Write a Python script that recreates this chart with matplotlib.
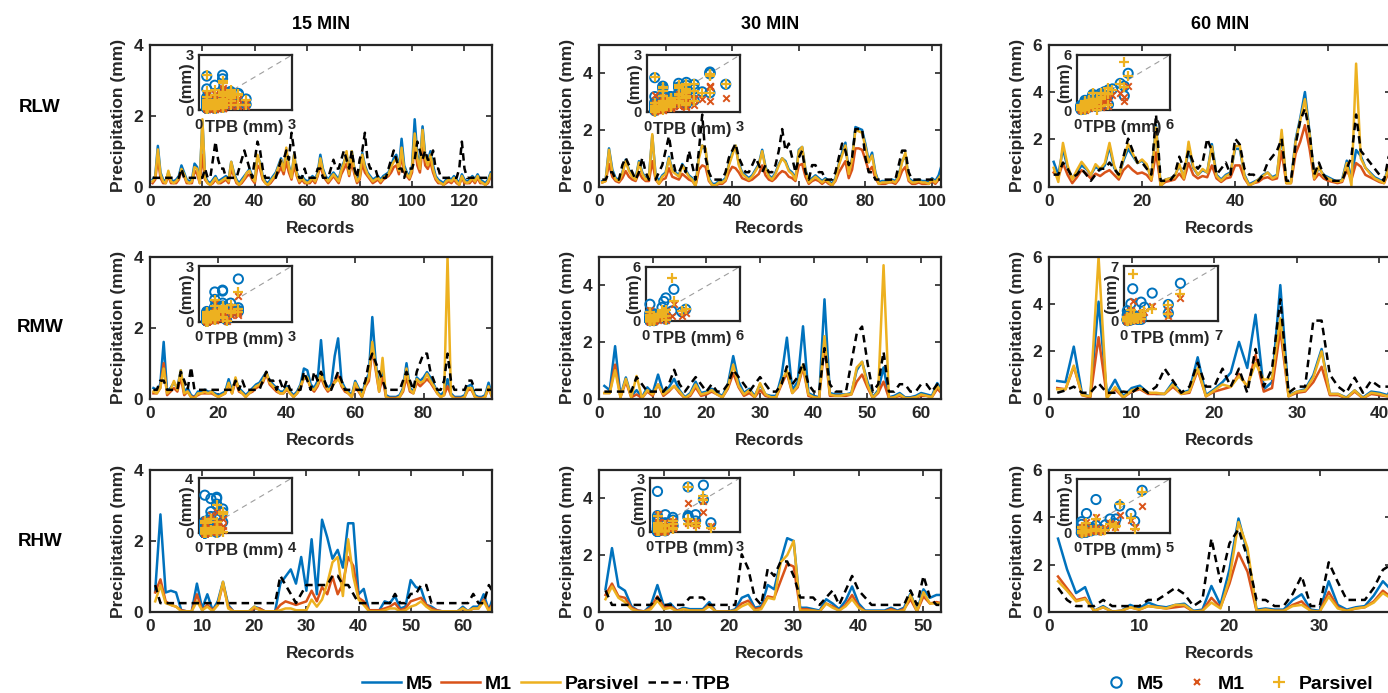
import matplotlib
matplotlib.use("Agg")
import matplotlib.pyplot as plt
from matplotlib.lines import Line2D
import numpy as np

plt.rcParams["font.family"] = ["Liberation Sans", "DejaVu Sans"]
plt.rcParams["font.weight"] = "bold"
plt.rcParams["axes.labelweight"] = "bold"

BLUE = "#0072BD"
RED = "#D95319"
YEL = "#EDB120"
AXC = "#262626"

# ---------------- data ----------------
# RLW 15 min
rlw15_tpb = [0.25, 0.25, 0.25, 0.25, 0.25, 0.25, 0.25, 0.25, 0.25, 0.25,
             0.25, 0.51, 0.25, 0.25, 0.25, 0.25, 0.25, 0.25, 0.25, 0.25,
             0.51, 0.25, 0.25, 0.76, 1.27, 0.76, 0.51, 0.51, 0.25, 0.25,
             0.25, 0.25, 0.25, 0.51, 0.76, 1.02, 0.76, 0.51, 0.25, 0.76,
             1.27, 1.02, 0.51, 0.25, 0.25, 0.25, 0.25, 0.25, 0.51, 0.76,
             0.76, 1.02, 0.76, 1.52, 1.02, 0.51, 0.25, 0.25, 0.51, 0.25,
             0.25, 0.25, 0.25, 0.51, 0.51, 0.25, 0.25, 0.25, 0.51, 0.76,
             0.51, 0.51, 0.76, 1.02, 0.76, 0.51, 1.02, 0.51, 0.25, 0.76,
             1.02, 1.52, 0.76, 0.51, 0.51, 0.51, 0.25, 0.25, 0.25, 0.25,
             0.51, 0.76, 1.02, 0.76, 0.51, 0.51, 0.25, 0.51, 0.51, 0.51,
             0.76, 1.27, 1.02, 0.76, 1.02, 0.76, 0.76, 1.02, 0.51, 0.51,
             0.25, 0.25, 0.25, 0.25, 0.25, 0.25, 0.25, 0.51, 1.27, 0.51,
             0.25, 0.25, 0.25, 0.25, 0.25, 0.25, 0.25, 0.25, 0.25, 0.25]
rlw15_m5 = [0.2, 0.3, 1.15, 0.4, 0.2, 0.15, 0.4, 0.2, 0.15, 0.2,
            0.3, 0.6, 0.4, 0.2, 0.15, 0.2, 0.65, 0.55, 0.2, 1.85,
            0.3, 0.15, 0.1, 0.2, 0.3, 0.15, 0.2, 0.25, 0.3, 0.2,
            0.7, 0.4, 0.2, 0.1, 0.2, 0.3, 0.4, 0.5, 0.3, 0.2,
            0.85, 0.7, 0.3, 0.15, 0.1, 0.2, 0.3, 0.4, 0.6, 0.8,
            0.5, 1.0, 0.6, 0.3, 0.9, 0.4, 0.2, 0.3, 0.2, 0.15,
            0.2, 0.3, 0.2, 0.4, 0.9, 0.5, 0.3, 0.2, 0.3, 0.4,
            0.3, 0.2, 0.5, 0.7, 0.9, 0.4, 1.0, 0.5, 0.2, 0.3,
            0.95, 0.6, 0.4, 0.3, 0.2, 0.25, 0.3, 0.2, 0.3, 0.35,
            0.4, 0.6, 0.8, 0.9, 0.5, 1.35, 0.6, 0.4, 0.3, 0.6,
            1.9, 0.9, 0.6, 1.7, 0.9, 0.7, 1.0, 0.6, 0.3, 0.2,
            0.15, 0.1, 0.2, 0.25, 0.2, 0.3, 0.2, 0.1, 0.35, 0.2,
            0.15, 0.2, 0.3, 0.2, 0.35, 0.2, 0.15, 0.1, 0.2, 0.4]
rlw15_m1 = [0.1, 0.2, 0.8, 0.25, 0.1, 0.1, 0.3, 0.1, 0.1, 0.1,
            0.2, 0.45, 0.3, 0.1, 0.1, 0.1, 0.45, 0.35, 0.1, 0.9,
            0.2, 0.1, 0.05, 0.1, 0.2, 0.1, 0.1, 0.15, 0.2, 0.1,
            0.5, 0.3, 0.1, 0.05, 0.1, 0.2, 0.3, 0.35, 0.2, 0.1,
            0.6, 0.5, 0.2, 0.1, 0.05, 0.1, 0.2, 0.3, 0.4, 0.55,
            0.35, 0.7, 0.4, 0.2, 0.6, 0.3, 0.1, 0.2, 0.1, 0.1,
            0.1, 0.2, 0.1, 0.3, 0.6, 0.35, 0.2, 0.1, 0.2, 0.3,
            0.2, 0.1, 0.35, 0.5, 0.65, 0.3, 0.7, 0.35, 0.1, 0.2,
            0.65, 0.4, 0.3, 0.2, 0.1, 0.15, 0.2, 0.1, 0.2, 0.25,
            0.3, 0.4, 0.55, 0.6, 0.35, 0.9, 0.4, 0.3, 0.2, 0.4,
            1.2, 0.6, 0.4, 1.1, 0.6, 0.5, 0.7, 0.4, 0.2, 0.1,
            0.1, 0.05, 0.1, 0.15, 0.1, 0.2, 0.1, 0.05, 0.25, 0.1,
            0.1, 0.1, 0.2, 0.1, 0.25, 0.1, 0.1, 0.05, 0.1, 0.3]
rlw15_par = [0.15, 0.25, 1.05, 0.35, 0.15, 0.1, 0.45, 0.15, 0.1, 0.15,
             0.25, 0.5, 0.35, 0.15, 0.1, 0.15, 0.55, 0.5, 0.1, 1.9,
             0.25, 0.1, 0.05, 0.15, 0.25, 0.1, 0.15, 0.2, 0.25, 0.15,
             0.7, 0.35, 0.15, 0.05, 0.15, 0.25, 0.4, 0.45, 0.25, 0.15,
             0.9, 0.65, 0.25, 0.1, 0.05, 0.15, 0.25, 0.35, 0.55, 0.75,
             0.45, 1.1, 0.55, 0.25, 0.9, 0.35, 0.15, 0.25, 0.15, 0.1,
             0.15, 0.25, 0.15, 0.35, 0.8, 0.45, 0.25, 0.15, 0.25, 0.35,
             0.25, 0.15, 0.45, 0.65, 1.0, 0.35, 1.0, 0.45, 0.15, 0.25,
             0.9, 0.55, 0.35, 0.25, 0.15, 0.2, 0.25, 0.15, 0.25, 0.3,
             0.35, 0.55, 0.7, 0.8, 0.45, 1.1, 0.5, 0.35, 0.25, 0.5,
             1.5, 0.8, 0.5, 1.6, 0.8, 0.6, 0.9, 0.5, 0.25, 0.15,
             0.1, 0.05, 0.15, 0.2, 0.15, 0.25, 0.15, 0.05, 0.3, 0.15,
             0.1, 0.15, 0.25, 0.15, 0.3, 0.15, 0.1, 0.05, 0.15, 0.35]

# RLW 30 min
rlw30_tpb = [0.25, 0.25, 0.51, 0.51, 0.25, 0.25, 0.76, 1.02, 0.76, 0.51,
             0.25, 0.51, 1.02, 0.51, 0.25, 0.25, 0.25, 0.51, 0.76, 1.27,
             1.78, 1.02, 0.51, 0.51, 0.76, 0.51, 1.27, 0.76, 0.25, 1.27,
             2.54, 1.02, 0.51, 0.25, 0.25, 0.25, 0.25, 0.51, 1.02, 1.27,
             1.52, 1.02, 0.76, 0.51, 0.51, 0.76, 1.02, 0.76, 0.51, 0.76,
             0.51, 0.51, 0.76, 1.27, 2.03, 1.27, 1.52, 1.02, 0.51, 1.02,
             1.27, 0.51, 0.25, 0.76, 0.76, 0.51, 0.51, 0.25, 0.25, 0.25,
             0.51, 1.02, 1.52, 1.27, 0.76, 1.02, 2.03, 2.03, 2.03, 1.02,
             0.51, 0.51, 0.25, 0.25, 0.25, 0.25, 0.25, 0.25, 0.25, 0.76,
             1.27, 1.27, 0.51, 0.25, 0.25, 0.25, 0.25, 0.25, 0.25, 0.25,
             0.25, 0.25, 0.25]
rlw30_m5 = [0.2, 0.25, 1.35, 0.6, 0.3, 0.25, 0.5, 0.95, 0.6, 0.4,
            0.3, 0.9, 0.5, 0.3, 0.35, 1.8, 0.4, 0.2, 0.4, 0.5,
            1.05, 0.6, 0.5, 0.4, 0.8, 0.6, 0.4, 0.3, 0.05, 1.1,
            1.45, 1.3, 0.3, 0.1, 0.1, 0.2, 0.2, 0.3, 0.8, 1.2,
            1.45, 0.8, 0.5, 0.4, 0.3, 0.4, 0.6, 0.8, 1.3, 0.7,
            0.4, 0.3, 0.5, 0.8, 1.0, 0.9, 0.6, 0.5, 0.3, 1.3,
            1.4, 0.6, 0.2, 0.3, 0.4, 0.3, 0.2, 0.3, 0.2, 0.1,
            0.3, 0.8, 1.2, 1.55, 0.5, 1.0, 2.1, 2.05, 2.0, 1.5,
            0.9, 1.2, 0.5, 0.15, 0.2, 0.2, 0.2, 0.25, 0.2, 0.4,
            0.9, 1.1, 0.3, 0.2, 0.2, 0.25, 0.2, 0.2, 0.15, 0.3,
            0.2, 0.4, 0.8]
rlw30_m1 = [0.15, 0.2, 0.8, 0.35, 0.2, 0.15, 0.3, 0.55, 0.35, 0.25,
            0.2, 0.5, 0.3, 0.2, 0.2, 0.9, 0.25, 0.1, 0.25, 0.3,
            0.65, 0.35, 0.3, 0.25, 0.45, 0.35, 0.25, 0.2, 0.05, 0.6,
            0.75, 0.7, 0.2, 0.05, 0.05, 0.1, 0.1, 0.2, 0.5, 0.7,
            0.65, 0.5, 0.3, 0.25, 0.2, 0.25, 0.35, 0.45, 0.75, 0.4,
            0.25, 0.2, 0.3, 0.45, 0.55, 0.5, 0.35, 0.3, 0.2, 0.75,
            0.8, 0.35, 0.1, 0.2, 0.25, 0.2, 0.1, 0.2, 0.1, 0.05,
            0.2, 0.5, 0.7, 0.9, 0.3, 0.6, 1.35, 1.35, 1.3, 0.95,
            0.55, 0.7, 0.3, 0.1, 0.1, 0.1, 0.15, 0.15, 0.1, 0.25,
            0.55, 0.7, 0.2, 0.1, 0.1, 0.15, 0.1, 0.1, 0.1, 0.2,
            0.1, 0.25, 0.45]
rlw30_par = [0.15, 0.2, 1.3, 0.5, 0.25, 0.2, 0.45, 0.9, 0.55, 0.35,
             0.25, 0.85, 0.45, 0.25, 0.3, 1.85, 0.3, 0.1, 0.35, 0.45,
             1.0, 0.55, 0.45, 0.35, 0.75, 0.55, 0.35, 0.25, 0.0, 1.0,
             1.45, 1.35, 0.25, 0.05, 0.05, 0.15, 0.15, 0.25, 0.75, 1.1,
             1.45, 0.75, 0.45, 0.35, 0.25, 0.35, 0.55, 0.75, 1.25, 0.65,
             0.35, 0.25, 0.45, 0.75, 1.0, 0.85, 0.55, 0.45, 0.25, 1.25,
             1.4, 0.55, 0.15, 0.25, 0.35, 0.25, 0.15, 0.25, 0.15, 0.05,
             0.25, 0.75, 1.1, 1.45, 0.45, 0.95, 2.0, 1.95, 1.9, 1.4,
             0.85, 1.1, 0.45, 0.1, 0.15, 0.15, 0.15, 0.2, 0.15, 0.35,
             0.85, 1.2, 0.25, 0.15, 0.15, 0.2, 0.15, 0.15, 0.1, 0.25,
             0.15, 0.3, 0.45]

# RLW 60 min
rlw60_tpb = [0.51, 0.51, 1.02, 0.76, 0.4, 0.51, 0.76, 0.51, 0.25, 0.51,
             0.76, 0.76, 1.02, 0.76, 0.51, 1.27, 2.03, 1.52, 1.02, 1.02,
             0.76, 0.51, 3.05, 0.25, 0.25, 0.25, 0.51, 1.27, 0.76, 1.52,
             1.02, 0.76, 1.02, 2.03, 1.52, 0.51, 0.76, 1.02, 0.51, 2.03,
             1.78, 0.76, 0.51, 0.51, 0.25, 0.51, 1.02, 1.27, 1.52, 2.03,
             0.25, 0.25, 1.78, 2.79, 3.3, 2.29, 0.51, 1.02, 0.51, 0.25,
             0.25, 0.25, 0.25, 0.76, 1.27, 3.05, 1.52, 1.27, 1.02, 0.76,
             0.51, 0.25, 1.27, 1.02]
rlw60_m5 = [1.05, 0.5, 1.6, 0.8, 0.35, 0.6, 0.9, 0.75, 0.5, 0.85,
            0.7, 0.9, 1.7, 0.8, 0.45, 1.1, 1.6, 1.3, 1.0, 1.1,
            0.9, 0.35, 2.6, 0.05, 0.3, 0.35, 0.45, 0.9, 0.4, 1.6,
            0.8, 0.5, 0.7, 0.6, 1.8, 0.5, 0.3, 0.5, 0.6, 1.6,
            1.6, 0.5, 0.1, 0.2, 0.3, 0.5, 0.6, 0.4, 0.5, 2.2,
            0.2, 0.2, 2.0, 2.9, 4.0, 2.3, 0.4, 0.8, 0.5, 0.4,
            0.3, 0.2, 0.3, 1.1, 0.4, 1.55, 1.3, 0.8, 0.6, 0.4,
            0.3, 0.2, 0.9, 0.9]
rlw60_m1 = [0.6, 0.4, 1.0, 0.5, 0.15, 0.4, 0.7, 0.55, 0.35, 0.55,
            0.45, 0.6, 0.7, 0.5, 0.3, 0.7, 0.9, 0.7, 0.55, 0.6,
            0.5, 0.25, 1.45, 0.05, 0.2, 0.25, 0.3, 0.55, 0.3, 1.0,
            0.5, 0.35, 0.45, 0.4, 0.9, 0.35, 0.2, 0.35, 0.4, 0.9,
            0.9, 0.35, 0.05, 0.15, 0.2, 0.35, 0.4, 0.3, 0.35, 1.5,
            0.15, 0.15, 1.4, 1.9, 2.6, 1.6, 0.3, 0.55, 0.35, 0.25,
            0.2, 0.15, 0.2, 0.7, 0.3, 1.0, 0.85, 0.5, 0.4, 0.3,
            0.2, 0.15, 0.6, 0.6]
rlw60_par = [0.8, 0.2, 1.85, 0.9, 0.3, 0.7, 1.05, 0.8, 0.5, 0.95,
             0.75, 1.0, 1.85, 0.9, 0.4, 1.2, 1.8, 1.4, 1.0, 1.15,
             0.95, 0.3, 2.5, 0.0, 0.3, 0.35, 0.4, 0.95, 0.35, 1.9,
             0.85, 0.5, 0.75, 0.6, 1.7, 0.45, 0.25, 0.45, 0.55, 1.7,
             1.75, 0.45, 0.05, 0.15, 0.3, 0.45, 0.6, 0.35, 0.45, 2.4,
             0.15, 0.15, 1.9, 2.8, 3.7, 2.2, 0.35, 0.85, 0.45, 0.35,
             0.25, 0.2, 0.25, 1.0, 0.05, 5.2, 1.2, 0.8, 0.55, 0.35,
             0.25, 0.15, 0.85, 0.8]

# RMW 15 min
rmw15_tpb = [0.25, 0.25, 0.51, 0.51, 0.25, 0.25, 0.25, 0.25, 0.76, 0.51,
             0.25, 0.89, 0.25, 0.25, 0.25, 0.25, 0.25, 0.25, 0.25, 0.25,
             0.25, 0.25, 0.25, 0.25, 0.51, 0.25, 0.51, 0.25, 0.25, 0.25,
             0.25, 0.25, 0.51, 0.76, 0.51, 0.51, 0.25, 0.51, 0.25, 0.51,
             0.25, 0.25, 0.25, 0.25, 0.76, 0.51, 0.25, 0.76, 0.51, 0.76,
             0.51, 0.25, 0.25, 0.51, 0.76, 0.51, 0.25, 0.25, 0.25, 0.25,
             0.25, 0.25, 0.51, 1.02, 1.27, 1.02, 0.76, 0.51, 0.25, 0.25,
             0.25, 0.25, 0.25, 0.51, 0.76, 0.51, 0.25, 0.76, 1.02, 1.27,
             1.27, 0.76, 0.51, 0.25, 0.25, 0.51, 1.27, 0.51, 0.25, 0.25,
             0.25, 0.25, 0.51, 0.51, 0.25, 0.25, 0.25, 0.25, 0.25, 0.25]
rmw15_m5 = [0.3, 0.25, 0.4, 1.6, 0.2, 0.3, 0.45, 0.3, 0.8, 0.2,
            0.3, 0.1, 0.05, 0.2, 0.2, 0.25, 0.2, 0.2, 0.15, 0.1,
            0.15, 0.2, 0.55, 0.2, 0.55, 0.3, 0.2, 0.1, 0.2, 0.3,
            0.4, 0.45, 0.6, 0.75, 0.5, 0.4, 0.3, 0.2, 0.2, 0.35,
            0.2, 0.1, 0.2, 0.4, 0.85, 0.8, 0.4, 0.3, 0.5, 1.65,
            0.5, 0.3, 0.4, 1.2, 1.7, 0.5, 0.3, 0.2, 0.1, 0.5,
            0.3, 0.1, 0.5, 0.7, 2.3, 1.0, 0.3, 0.8, 0.1, 0.05,
            0.05, 0.05, 0.1, 0.3, 1.0, 0.3, 0.2, 0.6, 0.5, 0.6,
            0.75, 0.6, 0.4, 0.2, 0.1, 0.2, 0.55, 0.15, 0.05, 0.05,
            0.05, 0.1, 0.35, 0.4, 0.1, 0.05, 0.05, 0.1, 0.45, 0.1]
rmw15_m1 = [0.15, 0.15, 0.3, 1.0, 0.1, 0.2, 0.3, 0.2, 0.6, 0.1,
            0.2, 0.05, 0.05, 0.1, 0.15, 0.15, 0.15, 0.15, 0.1, 0.05,
            0.1, 0.15, 0.4, 0.15, 0.5, 0.2, 0.15, 0.05, 0.15, 0.2,
            0.3, 0.35, 0.45, 0.7, 0.4, 0.3, 0.2, 0.15, 0.15, 0.25,
            0.15, 0.05, 0.15, 0.3, 0.6, 0.55, 0.3, 0.2, 0.35, 0.6,
            0.35, 0.2, 0.3, 0.5, 0.65, 0.35, 0.2, 0.15, 0.05, 0.35,
            0.2, 0.05, 0.35, 0.5, 1.4, 0.8, 0.2, 0.6, 0.05, 0.02,
            0.02, 0.02, 0.05, 0.2, 0.6, 0.2, 0.15, 0.45, 0.35, 0.45,
            0.55, 0.45, 0.3, 0.15, 0.05, 0.1, 0.35, 0.1, 0.02, 0.02,
            0.02, 0.05, 0.25, 0.25, 0.05, 0.02, 0.02, 0.05, 0.3, 0.05]
rmw15_par = [0.2, 0.15, 0.3, 0.85, 0.15, 0.25, 0.5, 0.25, 0.8, 0.15,
             0.2, 0.05, 0.0, 0.15, 0.15, 0.2, 0.15, 0.2, 0.1, 0.05,
             0.1, 0.15, 0.45, 0.15, 0.6, 0.25, 0.15, 0.05, 0.15, 0.25,
             0.35, 0.4, 0.5, 0.75, 0.45, 0.35, 0.25, 0.15, 0.15, 0.3,
             0.15, 0.05, 0.15, 0.35, 0.6, 0.6, 0.3, 0.25, 0.4, 0.7,
             0.4, 0.25, 0.3, 0.45, 0.55, 0.4, 0.25, 0.15, 0.05, 0.45,
             0.25, 0.05, 0.4, 0.6, 1.6, 0.9, 0.2, 1.15, 0.05, 0.0,
             0.0, 0.0, 0.05, 0.25, 0.85, 0.25, 0.15, 0.55, 0.45, 0.5,
             0.7, 0.5, 0.35, 0.15, 0.05, 0.1, 4.0, 0.1, 0.0, 0.0,
             0.0, 0.05, 0.3, 0.3, 0.05, 0.0, 0.0, 0.05, 0.35, 0.05]

# RMW 30 min
rmw30_tpb = [0.25, 0.25, 0.25, 0.25, 0.25, 0.25, 0.76, 0.51, 0.25, 0.25,
             0.25, 0.25, 0.51, 1.02, 0.51, 0.25, 0.51, 0.76, 0.51, 0.25,
             0.51, 0.25, 0.25, 0.51, 1.02, 0.76, 0.51, 0.25, 0.51, 0.76,
             0.51, 0.25, 0.25, 0.51, 1.14, 0.51, 0.76, 1.27, 0.51, 0.25,
             0.25, 1.78, 0.51, 0.25, 0.25, 0.25, 1.27, 2.29, 2.54, 1.27,
             0.25, 0.51, 1.65, 0.25, 0.25, 0.51, 0.51, 0.25, 0.25, 0.51,
             0.51, 0.25, 0.51, 0.25]
rmw30_m5 = [0.45, 0.3, 1.85, 0.1, 0.75, 0.1, 0.3, 0.05, 0.4, 0.2,
            0.85, 0.2, 0.4, 0.7, 0.3, 0.05, 0.2, 0.6, 0.2, 0.25,
            0.35, 0.2, 0.1, 0.5, 1.5, 0.6, 0.2, 0.35, 0.1, 0.5,
            0.15, 0.1, 0.1, 0.8, 2.15, 0.3, 0.6, 2.55, 0.2, 0.1,
            0.05, 3.5, 0.2, 0.15, 0.15, 0.15, 0.2, 1.0, 1.3, 0.6,
            0.05, 0.3, 1.1, 0.05, 0.1, 0.2, 0.05, 0.05, 0.1, 0.2,
            0.15, 0.1, 0.55, 0.25]
rmw30_m1 = [0.2, 0.2, 1.2, 0.05, 0.6, 0.05, 0.15, 0.02, 0.25, 0.1,
            0.5, 0.1, 0.25, 0.45, 0.2, 0.02, 0.1, 0.4, 0.1, 0.15,
            0.25, 0.15, 0.05, 0.35, 0.9, 0.4, 0.1, 0.2, 0.05, 0.3,
            0.1, 0.05, 0.05, 0.5, 0.9, 0.2, 0.4, 1.1, 0.1, 0.05,
            0.02, 1.9, 0.1, 0.1, 0.1, 0.1, 0.15, 0.6, 0.85, 0.4,
            0.02, 0.2, 0.6, 0.02, 0.05, 0.1, 0.02, 0.02, 0.05, 0.1,
            0.1, 0.05, 0.35, 0.15]
rmw30_par = [0.2, 0.2, 1.0, 0.05, 0.7, 0.05, 0.8, 0.02, 0.3, 0.15,
             0.5, 0.15, 0.3, 0.45, 0.25, 0.02, 0.15, 0.5, 0.15, 0.2,
             0.3, 0.15, 0.05, 0.4, 1.2, 0.45, 0.15, 0.3, 0.05, 0.55,
             0.15, 0.05, 0.05, 0.6, 1.0, 0.2, 0.45, 1.2, 0.15, 0.05,
             0.02, 2.2, 0.15, 0.1, 0.1, 0.15, 0.15, 1.1, 1.3, 0.5,
             0.02, 0.25, 4.7, 0.02, 0.05, 0.15, 0.02, 0.02, 0.05, 0.15,
             0.1, 0.05, 0.45, 0.2]

# RMW 60 min
rmw60_tpb = [0.25, 0.35, 0.51, 0.25, 0.25, 0.65, 0.25, 0.25, 0.3, 0.25,
             0.51, 0.25, 0.51, 1.27, 0.76, 0.25, 0.51, 1.52, 0.51, 0.51,
             1.27, 0.51, 1.27, 0.25, 2.1, 0.51, 1.27, 4.2, 0.25, 0.51,
             0.51, 3.3, 3.3, 1.02, 0.51, 0.25, 0.89, 0.25, 0.76, 0.51,
             0.51, 0.51]
rmw60_m5 = [0.75, 0.7, 2.2, 0.2, 0.1, 4.1, 0.2, 0.8, 0.1, 0.45,
            0.55, 0.25, 0.2, 0.2, 0.7, 0.25, 0.35, 1.75, 0.15, 0.4,
            0.7, 1.1, 2.4, 1.3, 3.55, 0.4, 0.7, 4.8, 0.15, 0.3,
            0.4, 1.0, 2.1, 0.2, 0.2, 0.05, 0.35, 0.05, 0.3, 0.25,
            0.15, 0.9]
rmw60_m1 = [0.45, 0.4, 1.35, 0.15, 0.05, 2.6, 0.1, 0.4, 0.05, 0.3,
            0.4, 0.2, 0.2, 0.2, 0.5, 0.2, 0.25, 1.2, 0.1, 0.3,
            0.4, 0.5, 1.05, 0.5, 1.85, 0.3, 0.45, 2.9, 0.1, 0.25,
            0.3, 0.7, 1.35, 0.15, 0.15, 0.02, 0.3, 0.02, 0.2, 0.15,
            0.1, 0.5]
rmw60_par = [0.4, 0.4, 1.4, 0.15, 0.1, 6.0, 0.0, 0.5, 0.05, 0.35,
             0.45, 0.25, 0.25, 0.2, 0.6, 0.2, 0.3, 1.3, 0.1, 0.35,
             0.6, 0.5, 0.95, 0.55, 1.5, 0.8, 0.85, 3.4, 0.1, 0.3,
             0.35, 0.9, 2.0, 0.2, 0.2, 0.02, 0.35, 0.02, 0.25, 0.2,
             0.1, 0.6]

# RHW 15 min
rhw15_tpb = [0.76, 0.25, 0.25, 0.25, 0.25, 0.25, 0.25, 0.25, 0.25, 0.25,
             0.25, 0.25, 0.25, 0.25, 0.25, 0.25, 0.25, 0.25, 0.25, 0.25,
             0.25, 0.25, 0.25, 0.25, 1.02, 0.76, 0.51, 0.25, 0.51, 0.76,
             0.76, 0.76, 0.76, 0.76, 1.02, 1.02, 0.76, 0.76, 0.51, 0.25,
             0.25, 0.25, 0.25, 0.25, 0.25, 0.25, 0.51, 0.25, 0.25, 0.51,
             0.51, 0.76, 0.76, 0.25, 0.25, 0.25, 0.25, 0.25, 0.25, 0.25,
             0.25, 0.51, 0.25, 0.25, 0.76, 0.51]
rhw15_m5 = [0.6, 2.75, 0.55, 0.6, 0.55, 0.05, 0.02, 0.02, 0.8, 0.1,
            0.5, 0.05, 0.3, 0.85, 0.2, 0.02, 0.02, 0.02, 0.02, 0.15,
            0.1, 0.02, 0.02, 0.02, 0.8, 1.0, 1.2, 0.8, 1.55, 0.6,
            2.05, 0.5, 2.6, 2.1, 1.5, 1.75, 1.25, 2.5, 2.5, 0.5,
            0.65, 0.05, 0.05, 0.05, 0.3, 0.25, 0.45, 0.1, 0.15, 0.9,
            0.7, 0.65, 0.2, 0.15, 0.05, 0.02, 0.02, 0.02, 0.02, 0.15,
            0.02, 0.15, 0.15, 0.5, 0.05, 0.5]
rhw15_m1 = [0.55, 0.92, 0.3, 0.2, 0.15, 0.05, 0.02, 0.02, 0.5, 0.05,
            0.2, 0.05, 0.2, 0.8, 0.15, 0.02, 0.02, 0.02, 0.02, 0.1,
            0.1, 0.02, 0.02, 0.02, 0.2, 0.3, 0.25, 0.2, 0.25, 0.3,
            0.6, 0.3, 0.7, 0.5, 1.0, 0.5, 0.8, 1.55, 1.3, 0.4,
            0.3, 0.05, 0.05, 0.05, 0.1, 0.15, 0.25, 0.05, 0.1, 0.3,
            0.35, 0.4, 0.2, 0.1, 0.05, 0.02, 0.02, 0.02, 0.02, 0.1,
            0.02, 0.1, 0.1, 0.35, 0.05, 0.3]
rhw15_par = [0.3, 0.75, 0.25, 0.2, 0.15, 0.02, 0.02, 0.02, 0.3, 0.05,
             0.15, 0.02, 0.2, 0.85, 0.1, 0.02, 0.02, 0.02, 0.02, 0.15,
             0.05, 0.02, 0.02, 0.02, 0.05, 0.1, 0.1, 0.05, 0.05, 0.05,
             0.35, 0.15, 0.35, 0.8, 1.4, 1.55, 0.45, 2.05, 1.0, 0.35,
             0.2, 0.02, 0.02, 0.02, 0.05, 0.1, 0.1, 0.02, 0.05, 0.15,
             0.2, 0.3, 0.15, 0.05, 0.02, 0.02, 0.02, 0.02, 0.02, 0.1,
             0.02, 0.1, 0.1, 0.3, 0.02, 0.25]

# RHW 30 min
rhw30_tpb = [0.76, 0.25, 0.25, 0.25, 0.25, 0.25, 0.25, 0.25, 0.51, 0.25,
             0.25, 0.25, 0.25, 0.51, 0.51, 0.51, 0.25, 0.25, 0.25, 0.25,
             0.25, 2.03, 1.52, 0.51, 0.25, 1.52, 1.27, 1.78, 1.78, 1.27,
             0.51, 0.51, 0.51, 0.25, 0.51, 0.76, 0.25, 0.76, 1.27, 0.76,
             0.51, 0.25, 0.25, 0.25, 0.25, 0.25, 0.25, 0.76, 0.25, 1.27,
             0.51, 0.25, 0.25]
rhw30_m5 = [0.8, 2.25, 0.9, 0.75, 0.2, 0.05, 0.02, 0.25, 0.95, 0.2,
            0.3, 0.05, 0.15, 0.1, 0.1, 0.1, 0.35, 0.02, 0.02, 0.02,
            0.1, 0.5, 0.6, 0.15, 0.2, 0.95, 0.8, 1.8, 2.6, 2.5,
            0.15, 0.15, 0.1, 0.05, 0.45, 0.3, 0.1, 0.4, 0.9, 0.3,
            0.05, 0.05, 0.05, 0.05, 0.15, 0.05, 0.15, 0.65, 0.05, 0.8,
            0.5, 0.6, 0.6]
rhw30_m1 = [0.6, 1.0, 0.55, 0.5, 0.15, 0.05, 0.02, 0.15, 0.55, 0.15,
            0.2, 0.05, 0.1, 0.05, 0.05, 0.05, 0.25, 0.02, 0.02, 0.02,
            0.05, 0.3, 0.4, 0.1, 0.15, 0.55, 0.5, 1.1, 1.7, 1.6,
            0.1, 0.1, 0.05, 0.02, 0.3, 0.2, 0.05, 0.25, 0.6, 0.2,
            0.02, 0.02, 0.02, 0.02, 0.1, 0.02, 0.1, 0.45, 0.02, 0.55,
            0.3, 0.35, 0.3]
rhw30_par = [0.45, 0.9, 0.5, 0.35, 0.1, 0.02, 0.02, 0.1, 0.4, 0.1,
             0.15, 0.02, 0.1, 0.05, 0.05, 0.05, 0.2, 0.02, 0.02, 0.02,
             0.05, 0.2, 0.3, 0.05, 0.1, 0.5, 0.45, 1.75, 2.0, 2.5,
             0.05, 0.05, 0.05, 0.02, 0.3, 0.15, 0.05, 0.2, 0.45, 0.15,
             0.02, 0.02, 0.02, 0.02, 0.05, 0.02, 0.05, 0.6, 0.02, 0.7,
             0.3, 0.3, 0.3]

# RHW 60 min
rhw60_tpb = [1.02, 0.51, 0.25, 0.25, 0.25, 0.51, 0.25, 0.25, 0.25, 0.25,
             0.51, 0.51, 0.76, 1.02, 0.76, 0.25, 0.51, 3.1, 1.27, 2.9,
             3.5, 2.29, 0.51, 0.51, 0.25, 0.25, 0.76, 1.52, 0.25, 0.25,
             2.1, 1.27, 0.51, 0.51, 0.51, 1.02, 1.78, 2.03]
rhw60_m5 = [3.1, 1.8, 0.8, 1.05, 0.05, 0.25, 0.02, 0.05, 0.3, 0.15,
            0.4, 0.25, 0.2, 0.3, 0.35, 0.05, 0.1, 1.1, 0.3, 1.8,
            3.95, 2.5, 0.1, 0.15, 0.1, 0.1, 0.5, 0.75, 0.1, 0.05,
            1.3, 0.3, 0.1, 0.2, 0.25, 0.7, 1.3, 0.9]
rhw60_m1 = [1.5, 1.0, 0.5, 0.6, 0.05, 0.2, 0.02, 0.05, 0.2, 0.1,
            0.25, 0.2, 0.15, 0.2, 0.25, 0.02, 0.05, 0.6, 0.2, 1.2,
            2.5, 1.7, 0.05, 0.1, 0.05, 0.05, 0.3, 0.45, 0.05, 0.02,
            0.85, 0.2, 0.05, 0.15, 0.2, 0.45, 0.9, 0.6]
rhw60_par = [1.3, 0.9, 0.45, 0.55, 0.05, 0.2, 0.02, 0.05, 0.2, 0.1,
             0.25, 0.2, 0.15, 0.3, 0.3, 0.02, 0.05, 0.4, 0.15, 1.4,
             3.8, 2.7, 0.05, 0.1, 0.05, 0.05, 0.25, 0.3, 0.05, 0.02,
             0.65, 0.15, 0.05, 0.15, 0.2, 0.4, 0.8, 0.55]

col_titles = ["15 MIN", "30 MIN", "60 MIN"]
row_names = ["RLW", "RMW", "RHW"]
x_max = [130.5, 102.7, 73.5, 100, 63.7, 41.4, 65.6, 52.7, 37.9]
x_step = [20, 20, 20, 20, 10, 10, 10, 10, 10]
y_max = [4, 5, 6, 4, 5, 6, 4, 5, 6]
inset_max = [3, 3, 6, 3, 6, 7, 4, 3, 5]

series = [
    (rlw15_tpb, rlw15_m5, rlw15_m1, rlw15_par),
    (rlw30_tpb, rlw30_m5, rlw30_m1, rlw30_par),
    (rlw60_tpb, rlw60_m5, rlw60_m1, rlw60_par),
    (rmw15_tpb, rmw15_m5, rmw15_m1, rmw15_par),
    (rmw30_tpb, rmw30_m5, rmw30_m1, rmw30_par),
    (rmw60_tpb, rmw60_m5, rmw60_m1, rmw60_par),
    (rhw15_tpb, rhw15_m5, rhw15_m1, rhw15_par),
    (rhw30_tpb, rhw30_m5, rhw30_m1, rhw30_par),
    (rhw60_tpb, rhw60_m5, rhw60_m1, rhw60_par),
]

# ---------------- layout (pixels) ----------------
W, H = 1388, 693


def box(l, t, r, b):
    return [l / W, 1 - b / H, (r - l) / W, (b - t) / H]


col_left = [150, 599, 1049]
row_top = [44.7, 256.7, 470]
ax_w, ax_h = 342, 142
inset_px = [(199, 55, 292, 110), (647, 55, 740, 111.7), (1077, 55, 1170, 110),
            (199, 266, 292, 321.7), (646, 266.7, 740, 321), (1124, 266, 1218, 321),
            (199, 478, 292, 533), (650, 478, 740, 531.7), (1077, 479, 1170, 533)]
row_label_y = [107, 327, 541]
LW = 1.8
DASH = (0, (3, 2))

fig = plt.figure(figsize=(W / 100, H / 100), dpi=100)

for i, (tpb, m5, m1, par) in enumerate(series):
    r, c = divmod(i, 3)
    l, t = col_left[c], row_top[r]
    ax = fig.add_axes(box(l, t, l + ax_w, t + ax_h))
    x = np.arange(1, len(tpb) + 1)
    ax.plot(x, m5, color=BLUE, lw=LW)
    ax.plot(x, m1, color=RED, lw=LW)
    ax.plot(x, par, color=YEL, lw=LW)
    ax.plot(x, tpb, color="black", lw=LW, ls=DASH)
    ax.set_xlim(0, x_max[i])
    ax.set_ylim(0, y_max[i])
    ax.set_yticks(np.arange(0, y_max[i] + 0.1, 2))
    ax.set_xticks(np.arange(0, x_max[i], x_step[i]))
    ax.tick_params(direction="in", length=4, width=1.2, top=True, right=True,
                   labelsize=12.5, pad=5, colors=AXC)
    for sp in ax.spines.values():
        sp.set_linewidth(1.6)
        sp.set_color(AXC)
    ax.set_xlabel("Records", fontsize=12.5, labelpad=9, color=AXC)
    ax.set_ylabel("Precipitation (mm)", fontsize=12.5, labelpad=5, color=AXC)
    if r == 0:
        ax.set_title(col_titles[c], fontsize=13, fontweight="bold", pad=11, color="black")

    # inset scatter against TPB
    L = inset_max[i]
    axi = fig.add_axes(box(*inset_px[i]))
    axi.plot([0, L], [0, L], color="#9e9e9e", lw=0.8, ls=(0, (5, 4)))
    tp = np.array(tpb)
    for vals, kw in [(m5, dict(marker="o", s=44, facecolors="none", edgecolors=BLUE, linewidths=1.4)),
                     (m1, dict(marker="x", s=22, color=RED, linewidths=1.4)),
                     (par, dict(marker="+", s=55, color=YEL, linewidths=1.6))]:
        v = np.array(vals)
        keep = (tp <= L) & (v <= L)
        axi.scatter(tp[keep], v[keep], clip_on=False, zorder=3, **kw)
    axi.set_xlim(0, L)
    axi.set_ylim(0, L)
    axi.set_xticks([0, L])
    axi.set_yticks([0, L])
    axi.set_xticklabels(["0", str(L)])
    axi.set_yticklabels(["0", str(L)])
    axi.tick_params(length=0, labelsize=10.5, colors=AXC)
    axi.tick_params(axis="x", pad=6)
    axi.tick_params(axis="y", pad=4)
    for sp in axi.spines.values():
        sp.set_linewidth(1.6)
        sp.set_color(AXC)
    axi.text(0.49, -0.32, "TPB (mm)", transform=axi.transAxes, ha="center", va="center",
             fontsize=12, fontweight="bold", color=AXC)
    axi.text(-0.13, 0.5, "(mm)", transform=axi.transAxes, ha="center", va="center",
             rotation=90, fontsize=12, fontweight="bold", color=AXC)

for r, name in enumerate(row_names):
    fig.text(40 / W, 1 - row_label_y[r] / H, name, ha="center", va="center",
             fontsize=13.5, fontweight="bold", color="black")

# legends
line_handles = [Line2D([], [], color=BLUE, lw=LW),
                Line2D([], [], color=RED, lw=LW),
                Line2D([], [], color=YEL, lw=LW),
                Line2D([], [], color="black", lw=LW, ls=DASH)]
fig.legend(line_handles, ["M5", "M1", "Parsivel", "TPB"], loc="center",
           bbox_to_anchor=(546 / W, 1 - 684 / H), ncol=4, frameon=False,
           fontsize=14, handlelength=2.0, handletextpad=0.25, columnspacing=0.45,
           borderpad=0)

marker_handles = [Line2D([], [], ls="none", marker="o", markersize=7.5, mfc="none",
                         mec=BLUE, mew=1.5),
                  Line2D([], [], ls="none", marker="x", markersize=5, color=RED, mew=1.5),
                  Line2D([], [], ls="none", marker="+", markersize=8, color=YEL, mew=1.6)]
fig.legend(marker_handles, ["M5", "M1", "Parsivel"], loc="center",
           bbox_to_anchor=(1240 / W, 1 - 684 / H), ncol=3, frameon=False,
           fontsize=14, handlelength=1.0, handletextpad=0.55, columnspacing=1.25,
           borderpad=0)

fig.savefig("out.png", dpi=100)
